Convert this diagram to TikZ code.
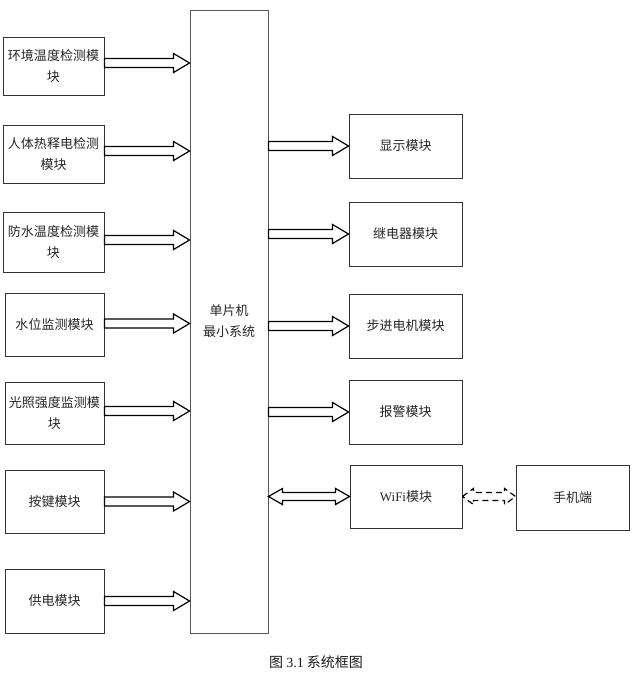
\documentclass[tikz,border=0pt]{standalone}
\usepackage{fontspec}
\setmainfont{Liberation Serif}
\newfontfamily\cjk{Noto Sans CJK SC}
\usetikzlibrary{calc}
\tikzset{
  modbox/.style={draw=black!80, line width=0.9pt, align=center, inner sep=0pt,
    font=\cjk\fontsize{13}{21}\selectfont, text=black!85},
  fatarrow/.style={line width=1.2pt, to path={let \p1=(\tikztostart), \p2=(\tikztotarget) in
    ({\x1},{\y1+4.5pt}) -- ({\x2-16pt},{\y1+4.5pt}) -- ({\x2-16pt},{\y1+9.5pt}) -- ({\x2},{\y1})
    -- ({\x2-16pt},{\y1-9.5pt}) -- ({\x2-16pt},{\y1-4.5pt}) -- ({\x1},{\y1-4.5pt}) -- cycle}},
  fatboth/.style={line width=1.2pt, to path={let \p1=(\tikztostart), \p2=(\tikztotarget) in
    ({\x1},{\y1}) -- ({\x1+#1},{\y1+8pt}) -- ({\x1+#1},{\y1+4pt}) -- ({\x2-#1},{\y1+4pt})
    -- ({\x2-#1},{\y1+8pt}) -- ({\x2},{\y1}) -- ({\x2-#1},{\y1-8pt}) -- ({\x2-#1},{\y1-4pt})
    -- ({\x1+#1},{\y1-4pt}) -- ({\x1+#1},{\y1-8pt}) -- cycle}},
}
\begin{document}
\begin{tikzpicture}[x=1pt,y=-1pt]
\useasboundingbox (0,0) rectangle (637,679);
% left modules
\node[modbox, minimum width=101, minimum height=58] (env) at (53.5,66) {环境温度检测模\\块};
\node[modbox, minimum width=101, minimum height=58] (pir) at (53.5,154) {人体热释电检测\\模块};
\node[modbox, minimum width=101, minimum height=60] (wtemp) at (53.5,242) {防水温度检测模\\块};
\node[modbox, minimum width=99, minimum height=63] (level) at (54.5,324.5) {水位监测模块};
\node[modbox, minimum width=99, minimum height=62] (light) at (54.5,413) {光照强度监测模\\块};
\node[modbox, minimum width=99, minimum height=63] (key) at (54.5,501.5) {按键模块};
\node[modbox, minimum width=99, minimum height=64] (power) at (54.5,601) {供电模块};
% mcu
\node[modbox, draw=black!65, minimum width=78, minimum height=623] (mcu) at (229,321.5) {单片机\\最小系统};
% right modules
\node[modbox, minimum width=113, minimum height=64] (disp) at (405.5,146) {显示模块};
\node[modbox, minimum width=113, minimum height=64] (relay) at (405.5,234) {继电器模块};
\node[modbox, minimum width=113, minimum height=64] (motor) at (405.5,326) {步进电机模块};
\node[modbox, minimum width=113, minimum height=64] (alarm) at (405.5,412) {报警模块};
\node[modbox, minimum width=112, minimum height=63] (wifi) at (406,496.5) {{\rmfamily WiFi}模块};
\node[modbox, minimum width=113, minimum height=65] (phone) at (572.5,497.5) {手机端};
% arrow start points
\coordinate (envout) at ([yshift=3]env.east);
\coordinate (pirout) at ([yshift=3]pir.east);
\coordinate (wtempout) at ([yshift=2]wtemp.east);
\coordinate (levelout) at ([yshift=1]level.east);
\coordinate (lightout) at ([yshift=2]light.east);
% inputs
\draw[fatarrow] (envout) to (mcu.west |- envout);
\draw[fatarrow] (pirout) to (mcu.west |- pirout);
\draw[fatarrow] (wtempout) to (mcu.west |- wtempout);
\draw[fatarrow] (levelout) to (mcu.west |- levelout);
\draw[fatarrow] (lightout) to (mcu.west |- lightout);
\draw[fatarrow] (key.east) to (mcu.west |- key.east);
\draw[fatarrow] (power.east) to (mcu.west |- power.east);
% outputs
\draw[fatarrow] (mcu.east |- disp.west) to (disp.west);
\draw[fatarrow] (mcu.east |- relay.west) to (relay.west);
\draw[fatarrow] (mcu.east |- motor.west) to (motor.west);
\draw[fatarrow] (mcu.east |- alarm.west) to (alarm.west);
\draw[fatboth=14pt] (mcu.east |- wifi.west) to (wifi.west);
\draw[fatboth=11pt, dashed, dash pattern=on 6pt off 4pt] (wifi.east) to (phone.west);
% caption
\node[font=\cjk\fontsize{14}{16}\selectfont, text=black!90] (cap) at (316,662) {图 {\rmfamily 3.1} 系统框图};
\end{tikzpicture}
\end{document}
